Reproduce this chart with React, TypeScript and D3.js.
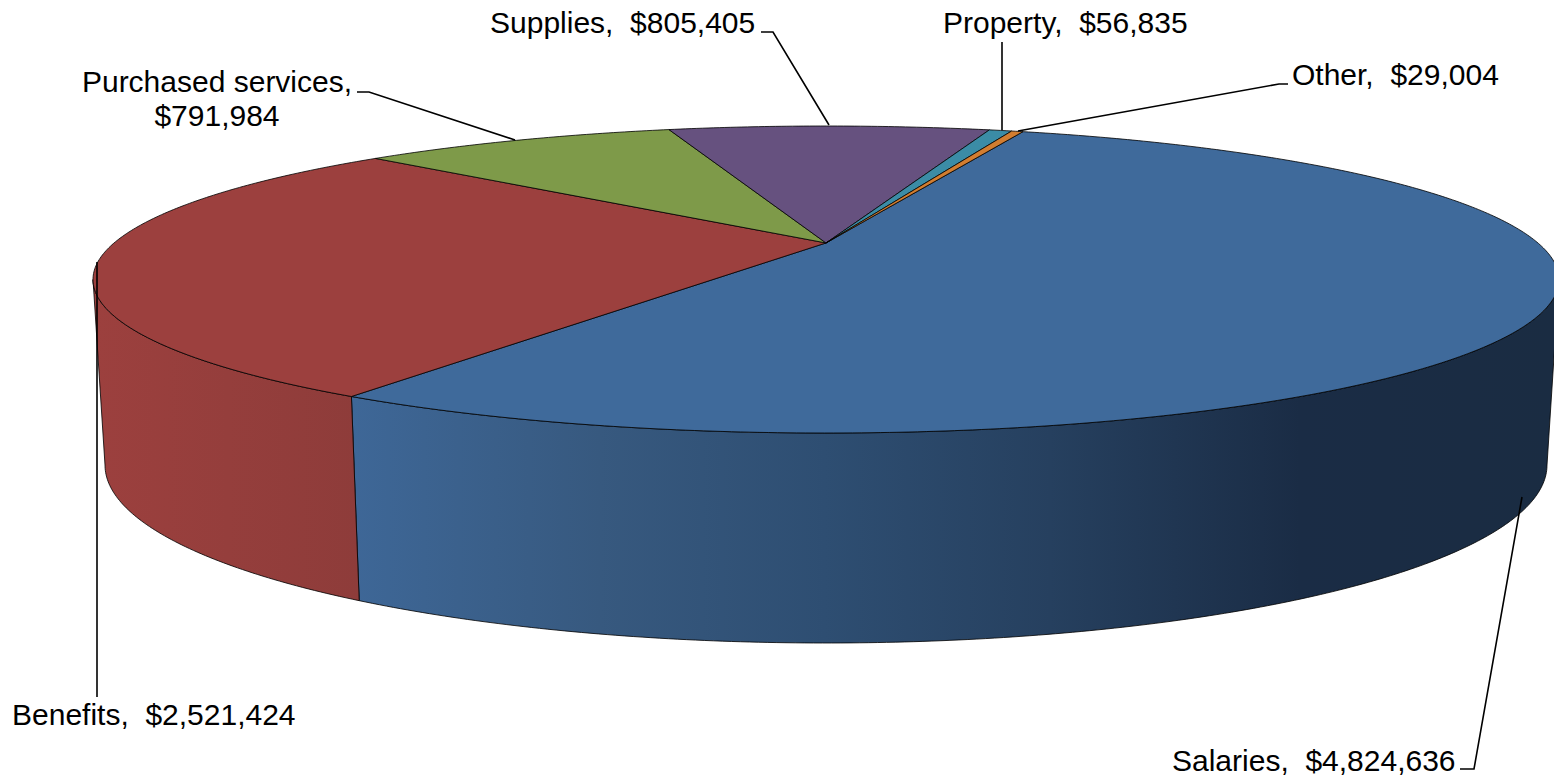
import React from "react";
import * as d3 from "d3";

const categories = ["Salaries", "Benefits", "Purchased services", "Supplies", "Property", "Other"];
const amounts = [4824636, 2521424, 791984, 805405, 56835, 29004];
const topColors = ["#3f6a9b", "#9c403e", "#7e9a49", "#66517f", "#3b8ca6", "#d27d30"];

const W = 1554, H = 781;
const START_DEG = 19.8;
const CX = 826;
const PERSP = 0.238;
const TOP_PLANE = { cy: 279.5, rx: 733, ry: 153.5 };
const BOTTOM_PLANE = { cy: 465, rx: 721, ry: 178 };
const SIDE = (Math.acos(PERSP) * 180) / Math.PI; // angle from the side axis to the widest point
const FRONT_FROM = ((180 - SIDE) * Math.PI) / 180, FRONT_TO = ((180 + SIDE) * Math.PI) / 180;

type Plane = { cy: number; rx: number; ry: number };
// perspective mapping of a unit circle: rim ellipse whose hub sits behind its centre
function project(p: Plane, theta: number): [number, number] {
  const u = Math.sin(theta), v = -Math.cos(theta);
  const k = 1 - PERSP * v;
  const c = p.rx * Math.sqrt(1 - PERSP * PERSP);
  const a = p.ry * (1 - PERSP * PERSP);
  const y0 = p.cy - p.ry * PERSP;
  return [CX + (c * u) / k, y0 + (a * v) / k];
}
const hub = (p: Plane): [number, number] => [CX, p.cy - p.ry * PERSP];

const line = d3.line<[number, number]>();
function rim(p: Plane, a0: number, a1: number): [number, number][] {
  const n = Math.max(2, Math.ceil(Math.abs(a1 - a0) / 0.01));
  return d3.range(n + 1).map((i) => project(p, a0 + ((a1 - a0) * i) / n));
}

const slices = d3
  .pie<number>()
  .sort(null)
  .startAngle((START_DEG * Math.PI) / 180)
  .endAngle(((START_DEG + 360) * Math.PI) / 180)(amounts);

const wallRamps: Record<number, [number, string][]> = {
  0: [[353, "#3e6797"], [600, "#37597f"], [825, "#2e4e72"], [1050, "#26405f"], [1300, "#1a2c45"], [1554, "#1a2c42"]],
  1: [[95, "#9c403e"], [360, "#8e3c3a"]],
};

// label layout, separate from the data
const labelLayout = [
  { i: 0, lines: ["Salaries,  $4,824,636"], x: 1172, y: 771, anchor: "start", leader: [[1522, 497], [1474, 769], [1460, 769]] as [number, number][] },
  { i: 1, lines: ["Benefits,  $2,521,424"], x: 12, y: 725, anchor: "start", leader: [[97, 262], [97, 697]] as [number, number][] },
  { i: 2, lines: ["Purchased services,", "$791,984"], x: 217, y: 92, anchor: "middle", leader: [[515, 140], [369, 92], [357, 92]] as [number, number][] },
  { i: 3, lines: ["Supplies,  $805,405"], x: 490, y: 33, anchor: "start", leader: [[829, 125], [773, 32], [761, 32]] as [number, number][] },
  { i: 4, lines: ["Property,  $56,835"], x: 943, y: 33, anchor: "start", leader: [[1002, 130], [1002, 42]] as [number, number][] },
  { i: 5, lines: ["Other,  $29,004"], x: 1292, y: 85, anchor: "start", leader: [[1018, 131], [1279, 84], [1288, 84]] as [number, number][] },
];

export default function App() {
  return (
    <svg
      width={W}
      height={H}
      viewBox={`0 0 ${W} ${H}`}
      style={{ position: "absolute", left: 0, top: 0, display: "block", background: "#fff" }}
    >
      <defs>
        {Object.entries(wallRamps).map(([k, stops]) => {
          const x0 = stops[0][0], x1 = stops[stops.length - 1][0];
          return (
            <linearGradient key={k} id={`wall${k}`} gradientUnits="userSpaceOnUse" x1={x0} x2={x1} y1={0} y2={0}>
              {stops.map(([x, c], j) => (
                <stop key={j} offset={(x - x0) / (x1 - x0)} stopColor={c} />
              ))}
            </linearGradient>
          );
        })}
      </defs>
      {slices.map((s, i) => {
        const a0 = Math.max(s.startAngle, FRONT_FROM);
        const a1 = Math.min(s.endAngle, FRONT_TO);
        if (a1 <= a0) return null;
        const top = rim(TOP_PLANE, a0, a1);
        const bottom = rim(BOTTOM_PLANE, a1, a0);
        return (
          <path
            key={`w${i}`}
            d={line([...top, ...bottom])! + "Z"}
            fill={`url(#wall${i})`}
            stroke="#000"
            strokeOpacity={0.8}
            strokeWidth={1}
            strokeLinejoin="round"
          />
        );
      })}
      {slices.map((s, i) => (
        <path
          key={`t${i}`}
          d={line([hub(TOP_PLANE), ...rim(TOP_PLANE, s.startAngle, s.endAngle)])! + "Z"}
          fill={topColors[i]}
          stroke="#000"
          strokeOpacity={0.8}
          strokeWidth={1}
          strokeLinejoin="round"
        />
      ))}
      {labelLayout.map((l) => (
        <path key={`l${l.i}`} d={line(l.leader)!} fill="none" stroke="#000" strokeWidth={1.6} />
      ))}
      {labelLayout.map((l) => (
        <text
          key={`x${l.i}`}
          x={l.x}
          y={l.y}
          textAnchor={l.anchor as "start" | "middle"}
          fontFamily="'Liberation Sans', Arial, sans-serif"
          fontSize={30}
          fill="#000"
          style={{ whiteSpace: "pre" }}
        >
          {l.lines.map((t, j) => (
            <tspan key={j} x={l.x} dy={j === 0 ? 0 : 34}>
              {t}
            </tspan>
          ))}
        </text>
      ))}
    </svg>
  );
}
